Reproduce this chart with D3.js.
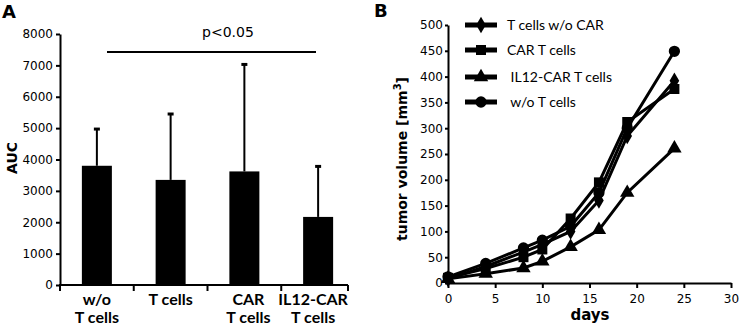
<!DOCTYPE html>
<html>
<head>
<meta charset="utf-8">
<script src="https://cdn.jsdelivr.net/npm/d3@7"></script>
<style>
  body { margin: 0; background: #fff; }
  svg { display: block; }
  .tick text { font-family: "DejaVu Sans", sans-serif; font-size: 12px; fill: #000; }
  .axis path, .axis line { stroke: #000; stroke-width: 2; }
  .cat { font-family: Lato, "Open Sans", sans-serif; font-weight: bold; font-size: 16px; }
  .leg { font-family: Lato, "Open Sans", sans-serif; font-size: 14px; white-space: pre; }
</style>
</head>
<body>
<div id="chart"></div>
<script>
// panel A data
let groups = ["w/o T cells", "T cells", "CAR T cells", "IL12-CAR T cells"]
let groupLines = [["w/o", "T cells"], ["T cells"], ["CAR", "T cells"], ["IL12-CAR", "T cells"]]
let aucMean = [3800, 3350, 3620, 2170]
let aucSd = [1170, 2100, 3410, 1610]
let aucTicks = [0, 1000, 2000, 3000, 4000, 5000, 6000, 7000, 8000]

// panel B data
let days = [0, 4, 8, 10, 13, 16, 19, 24]
let tWoCar = [8, 32, 60, 75, 100, 160, 285, 392]
let carT = [10, 28, 50, 65, 125, 195, 312, 376]
let il12Car = [8, 18, 29, 42, 70, 103, 175, 261]
let woT = [12, 38, 68, 83, 110, 175, 300, 449]
let seriesNames = ["T cells w/o CAR", "CAR T cells", " IL12-CAR T cells", " w/o T cells"]
let dayTicks = [0, 5, 10, 15, 20, 25, 30]
let volTicks = [0, 50, 100, 150, 200, 250, 300, 350, 400, 450, 500]

let width = 742
let height = 325

var svg = d3.select("#chart")
    .append("svg")
    .attr("width", width)
    .attr("height", height)

// ---------- Panel A ----------
svg.append("text")
    .attr("x", 2).attr("y", 18)
    .attr("font-family", "DejaVu Sans").attr("font-weight", "bold").attr("font-size", 18)
    .text("A")

var yA = d3.scaleLinear().domain([0, 8000]).range([285, 34])
var xA = d3.scalePoint().domain(groups).range([60, 355]).padding(0.5)
let barW = 30

svg.append("g")
    .attr("class", "axis")
    .attr("transform", "translate(60,0)")
    .call(d3.axisLeft(yA).tickValues(aucTicks).tickSize(4).tickSizeOuter(0).tickFormat(d3.format("d")))

// x axis with ticks between groups, last one pulled in a bit like the original
let step = xA.step()
let bounds = groups.map(g => xA(g) - step / 2).concat([xA(groups[3]) + step / 2 - 7])
svg.append("line")
    .attr("x1", 59).attr("x2", bounds[4])
    .attr("y1", 285).attr("y2", 285)
    .attr("stroke", "#000").attr("stroke-width", 2)
svg.selectAll(".xTickA").data(bounds).enter()
    .append("line")
    .attr("x1", d => d).attr("x2", d => d)
    .attr("y1", 285).attr("y2", 291)
    .attr("stroke", "#000").attr("stroke-width", 2)

// bars
svg.selectAll(".bar").data(groups).enter()
    .append("rect")
    .attr("x", (d) => xA(d) - barW / 2)
    .attr("y", (d, i) => yA(aucMean[i]))
    .attr("width", barW)
    .attr("height", (d, i) => yA(0) - yA(aucMean[i]))
    .attr("fill", "#000")

// error bars (upper only)
svg.selectAll(".err").data(groups).enter()
    .append("line")
    .attr("x1", d => xA(d)).attr("x2", d => xA(d))
    .attr("y1", (d, i) => yA(aucMean[i]))
    .attr("y2", (d, i) => yA(aucMean[i] + aucSd[i]))
    .attr("stroke", "#000").attr("stroke-width", 2)
svg.selectAll(".cap").data(groups).enter()
    .append("line")
    .attr("x1", d => xA(d) - 3).attr("x2", d => xA(d) + 3)
    .attr("y1", (d, i) => yA(aucMean[i] + aucSd[i]))
    .attr("y2", (d, i) => yA(aucMean[i] + aucSd[i]))
    .attr("stroke", "#000").attr("stroke-width", 3)

// category labels
let labelShift = [0, 0, 4, -5]
groups.forEach(function (g, i) {
    let t = svg.append("text")
        .attr("class", "cat")
        .attr("text-anchor", "middle")
        .attr("y", 305)
    groupLines[i].forEach(function (ln, j) {
        t.append("tspan").attr("x", xA(g) + labelShift[i]).attr("dy", j === 0 ? 0 : 18).text(ln)
    })
})

// y label
svg.append("text")
    .attr("transform", "translate(17,158) rotate(-90)")
    .attr("text-anchor", "middle")
    .attr("font-family", "DejaVu Sans").attr("font-weight", "bold").attr("font-size", 14)
    .text("AUC")

// significance
svg.append("line")
    .attr("x1", 107).attr("x2", 316)
    .attr("y1", 52).attr("y2", 52)
    .attr("stroke", "#000").attr("stroke-width", 2)
svg.append("text")
    .attr("x", 228).attr("y", 37)
    .attr("text-anchor", "middle")
    .attr("font-family", "DejaVu Sans").attr("font-size", 14)
    .text("p<0.05")

// ---------- Panel B ----------
svg.append("text")
    .attr("x", 374).attr("y", 17)
    .attr("font-family", "DejaVu Sans").attr("font-weight", "bold").attr("font-size", 18)
    .text("B")

var xB = d3.scaleLinear().domain([0, 30]).range([448, 731])
var yB = d3.scaleLinear().domain([0, 500]).range([283, 25])

svg.append("g")
    .attr("class", "axis")
    .attr("transform", "translate(0,283)")
    .call(d3.axisBottom(xB).tickValues(dayTicks).tickSize(5).tickSizeOuter(0).tickPadding(6))

svg.append("g")
    .attr("class", "axis")
    .attr("transform", "translate(448,0)")
    .call(d3.axisLeft(yB).tickValues(volTicks).tickSize(3).tickSizeOuter(0).tickPadding(2))

svg.append("text")
    .attr("x", 590).attr("y", 320)
    .attr("text-anchor", "middle")
    .attr("font-family", "DejaVu Sans").attr("font-weight", "bold").attr("font-size", 15)
    .text("days")

let yl = svg.append("text")
    .attr("transform", "translate(407,159) rotate(-90)")
    .attr("text-anchor", "middle")
    .attr("font-family", "DejaVu Sans").attr("font-weight", "bold").attr("font-size", 14)
yl.append("tspan").text("tumor volume [mm")
yl.append("tspan").attr("font-size", 10).attr("dy", -6).text("3")
yl.append("tspan").attr("dy", 6).text("]")

let series = [
    { name: seriesNames[0], values: tWoCar, sym: d3.symbolDiamond, size: 80 },
    { name: seriesNames[1], values: carT, sym: d3.symbolSquare, size: 100 },
    { name: seriesNames[2], values: il12Car, sym: d3.symbolTriangle, size: 90 },
    { name: seriesNames[3], values: woT, sym: d3.symbolCircle, size: 100 }
]

let line = d3.line()
    .x((d, i) => xB(days[i]))
    .y(d => yB(d))

series.forEach(function (s) {
    svg.append("path")
        .attr("d", line(s.values))
        .attr("fill", "none")
        .attr("stroke", "#000")
        .attr("stroke-width", 3)
})
series.forEach(function (s) {
    svg.selectAll(null).data(s.values).enter()
        .append("path")
        .attr("d", d3.symbol().type(s.sym).size(s.size))
        .attr("transform", (d, i) => `translate(${xB(days[i])},${yB(d)})`)
        .attr("fill", "#000")
})

// legend
let legY = [25, 50, 77, 102]
series.forEach(function (s, i) {
    svg.append("line")
        .attr("x1", 465).attr("x2", 497)
        .attr("y1", legY[i]).attr("y2", legY[i])
        .attr("stroke", "#000").attr("stroke-width", 5)
    svg.append("path")
        .attr("d", d3.symbol().type(s.sym).size(s.size))
        .attr("transform", `translate(481,${legY[i]})`)
        .attr("fill", "#000")
    svg.append("text")
        .attr("class", "leg")
        .attr("x", 507).attr("y", legY[i] + 5)
        .text(s.name)
})
</script>
</body>
</html>
